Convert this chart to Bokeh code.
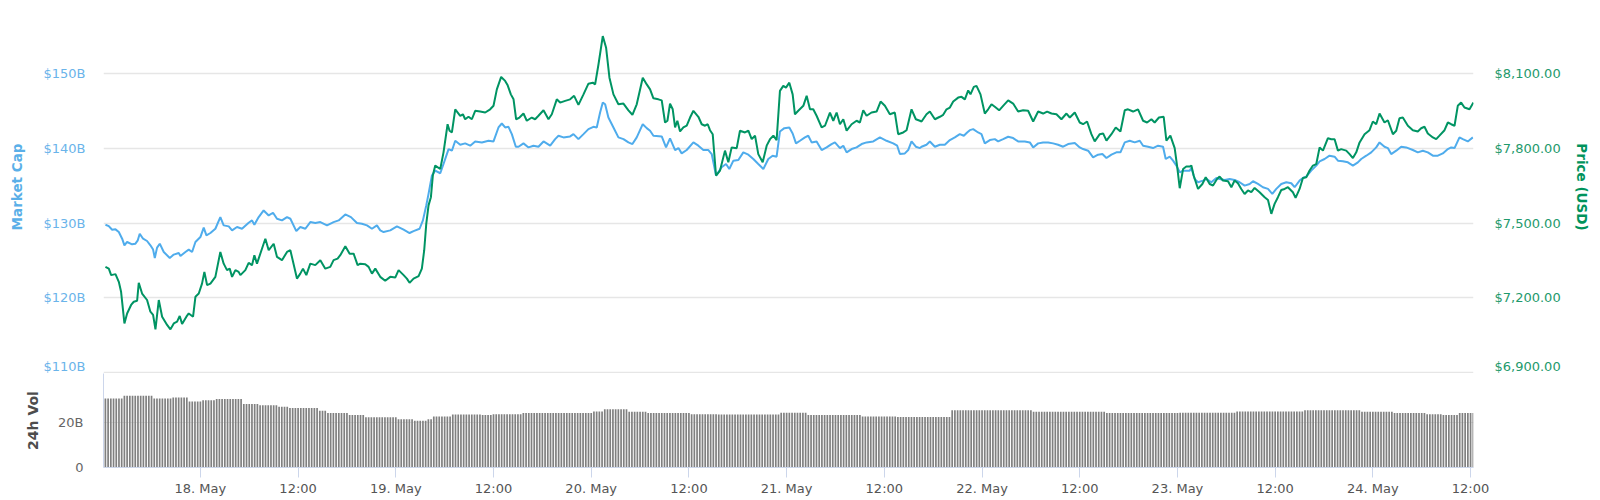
from bokeh.plotting import figure
from bokeh.models import Range1d, LinearAxis, FixedTicker, Grid, ColumnDataSource
from bokeh.layouts import column
from bokeh.embed import file_html
from bokeh.resources import INLINE

# hours relative to 18 May 2018 00:00
mcap_hours = [-11.66, -11.25, -10.84, -10.43, -10.02, -9.61, -9.33, -9.00, -8.39, -7.98, -7.69, -7.45, -7.04, -6.55, -6.14, -5.81, -5.60, -5.32, -4.99, -4.50,
              -3.76, -3.27, -2.66, -2.45, -1.84, -1.43, -1.02, -0.61, 0.00, 0.41, 0.74, 1.23, 1.84, 2.45, 2.86, 3.48, 3.89, 4.50, 5.11, 5.93,
              6.34, 6.63, 7.16, 7.77, 8.39, 8.92, 9.41, 10.02, 10.64, 11.05, 11.78, 12.27, 12.89, 13.50, 14.11, 14.73, 15.55, 16.36, 16.98, 17.80,
              18.49, 19.23, 19.84, 20.46, 21.07, 21.68, 22.09, 22.50, 23.32, 24.14, 24.96, 25.69, 26.18, 26.92, 27.33, 27.74, 28.02, 28.43, 28.84, 29.46,
              29.86, 30.48, 30.89, 31.30, 31.91, 32.52, 33.14, 33.75, 34.57, 35.39, 36.00, 36.61, 37.02, 37.43, 37.84, 38.25, 38.74, 39.07, 39.68, 40.30,
              40.91, 41.52, 42.14, 42.96, 43.57, 43.98, 44.59, 45.41, 45.82, 46.43, 47.05, 47.66, 48.27, 48.68, 49.09, 49.42, 49.71, 50.11, 50.73, 51.34,
              51.96, 52.57, 53.06, 53.59, 54.33, 54.82, 55.23, 55.64, 56.66, 57.19, 57.68, 58.30, 58.71, 59.11, 59.73, 60.55, 61.16, 61.77, 62.39, 62.80,
              63.33, 64.02, 64.56, 64.96, 65.46, 66.07, 66.68, 67.30, 67.91, 68.52, 69.14, 69.75, 70.28, 70.77, 71.18, 71.72, 72.33, 72.74, 73.15, 73.64,
              74.25, 74.66, 75.07, 75.68, 76.30, 76.91, 77.52, 77.93, 78.55, 78.96, 79.37, 79.98, 80.59, 81.21, 81.82, 82.64, 83.46, 84.27, 85.09, 85.58,
              85.91, 86.52, 86.93, 87.34, 87.87, 88.37, 88.57, 89.18, 89.59, 90.21, 90.82, 91.43, 92.05, 92.66, 93.27, 93.76, 94.17, 94.50, 94.91, 95.52,
              95.93, 96.34, 96.96, 97.57, 97.98, 98.59, 99.21, 99.82, 100.43, 101.25, 101.87, 102.28, 102.89, 103.50, 104.12, 104.73, 105.34, 105.96, 106.57, 107.39,
              108.00, 108.41, 109.03, 109.64, 110.25, 110.78, 111.28, 111.89, 112.50, 113.00, 113.53, 114.14, 114.75, 115.37, 115.78, 116.39, 117.00, 117.62, 118.23, 118.56,
              119.05, 119.46, 119.87, 120.28, 120.69, 121.50, 121.71, 122.12, 122.53, 123.14, 123.55, 124.16, 124.78, 125.18, 125.80, 126.41, 127.02, 127.64, 128.25, 128.87,
              129.28, 129.89, 130.50, 131.12, 131.65, 132.14, 132.75, 133.37, 133.98, 134.39, 135.00, 135.41, 135.82, 136.43, 137.05, 137.46, 138.07, 138.68, 139.30, 139.71,
              140.32, 140.93, 141.55, 142.16, 142.57, 143.19, 143.80, 144.41, 144.82, 145.43, 145.84, 146.25, 146.87, 147.48, 148.09, 148.91, 149.52, 150.14, 150.75, 151.37,
              151.98, 152.59, 153.21, 153.62, 154.03, 154.64, 155.05, 155.66, 156.28]
mcap_values = [129.78, 129.60, 129.11, 129.16, 128.80, 127.91, 127.02, 127.47, 127.16, 127.24, 127.69, 128.58, 127.91, 127.60, 127.02, 126.45, 125.33, 126.71, 127.24, 126.13,
               125.33, 125.78, 126.00, 125.60, 126.13, 126.45, 126.13, 127.47, 128.13, 129.38, 128.36, 128.67, 129.24, 130.80, 129.69, 129.56, 129.02, 129.47, 129.24, 130.04,
               130.36, 129.78, 130.80, 131.69, 131.02, 131.38, 130.58, 130.36, 130.80, 130.58, 128.93, 129.47, 129.24, 130.13, 130.00, 130.13, 129.69, 130.13, 130.36, 131.16,
               130.80, 130.00, 129.91, 129.69, 129.24, 129.69, 129.02, 128.80, 129.02, 129.56, 129.11, 128.67, 128.93, 129.24, 130.36, 132.36, 133.91, 136.36, 137.02, 136.67,
               137.91, 139.91, 139.69, 141.02, 140.49, 140.67, 140.36, 140.93, 140.80, 141.02, 140.93, 142.80, 143.33, 142.80, 142.89, 141.91, 140.22, 140.22, 140.67, 140.13,
               140.36, 140.22, 140.93, 140.36, 141.24, 141.69, 141.47, 141.60, 141.91, 141.24, 141.91, 142.58, 142.89, 142.80, 144.80, 146.13, 145.91, 144.13, 142.80, 141.47,
               141.24, 140.80, 140.58, 141.47, 143.24, 142.71, 142.36, 141.69, 141.60, 140.13, 141.33, 139.78, 140.04, 139.33, 139.78, 140.80, 140.36, 139.78, 139.78, 139.24,
               136.36, 137.47, 137.91, 137.24, 138.36, 138.44, 139.47, 139.16, 138.58, 137.91, 137.24, 138.58, 139.02, 138.89, 142.27, 142.71, 142.80, 142.00, 140.67, 141.02,
               141.47, 141.69, 140.80, 140.93, 139.78, 140.13, 140.58, 140.80, 140.04, 140.36, 139.47, 139.91, 140.13, 140.58, 140.80, 140.93, 141.47, 141.02, 140.67, 140.36,
               139.24, 139.33, 139.78, 140.93, 140.22, 140.04, 140.22, 140.49, 140.93, 140.22, 140.49, 140.49, 141.11, 141.47, 141.91, 141.69, 142.13, 142.44, 142.58, 142.13,
               141.91, 140.67, 141.11, 141.24, 140.93, 141.24, 141.56, 141.38, 140.93, 140.93, 140.80, 140.13, 140.67, 140.80, 140.80, 140.67, 140.49, 140.22, 140.58, 140.71,
               140.13, 139.91, 139.69, 138.80, 139.16, 139.24, 138.71, 139.16, 139.47, 139.47, 140.80, 141.02, 140.80, 141.02, 140.36, 140.22, 140.04, 140.36, 140.22, 138.58,
               138.89, 138.36, 137.69, 136.80, 137.02, 137.02, 137.38, 135.91, 135.47, 135.69, 135.91, 135.47, 136.04, 135.91, 135.78, 135.91, 135.78, 135.47, 135.02, 135.24,
               135.60, 135.24, 134.80, 134.58, 133.91, 134.58, 135.24, 135.47, 135.33, 134.80, 135.69, 136.04, 136.22, 137.02, 137.69, 138.27, 138.58, 139.02, 138.89, 138.36,
               138.27, 138.13, 137.69, 138.13, 138.58, 139.02, 139.47, 140.13, 140.80, 140.22, 140.04, 139.24, 139.69, 140.22, 140.13, 139.78, 139.47, 139.69, 139.47, 139.02,
               139.02, 139.33, 139.91, 140.13, 140.04, 141.47, 141.24, 140.93, 141.47]

price_hours = [-11.66, -11.25, -10.96, -10.43, -10.02, -9.74, -9.33, -9.00, -8.51, -8.18, -7.77, -7.57, -7.16, -6.55, -6.14, -5.81, -5.52, -5.11, -4.70, -4.09,
               -3.68, -3.27, -2.86, -2.54, -2.25, -1.72, -1.43, -0.90, -0.61, -0.20, 0.20, 0.49, 0.82, 1.23, 1.84, 2.45, 2.86, 3.27, 3.60, 3.89,
               4.30, 4.70, 4.91, 5.52, 5.93, 6.34, 6.63, 6.95, 7.77, 7.98, 8.39, 9.00, 9.41, 10.02, 10.64, 11.05, 11.86, 12.27, 12.60, 13.01,
               13.50, 14.11, 14.73, 15.34, 15.95, 16.36, 16.85, 17.18, 17.80, 18.33, 18.82, 19.31, 19.64, 20.25, 20.66, 21.07, 21.48, 22.09, 22.70, 23.32,
               23.93, 24.34, 24.96, 25.36, 25.69, 26.18, 26.80, 27.20, 27.49, 27.74, 28.02, 28.31, 28.55, 28.84, 29.46, 29.86, 30.36, 30.60, 30.89, 31.30,
               31.91, 32.24, 32.52, 32.93, 33.34, 33.75, 34.36, 34.98, 35.59, 36.00, 36.41, 36.94, 37.43, 37.72, 38.13, 38.46, 38.78, 39.19, 39.68, 40.09,
               40.70, 41.11, 41.52, 42.14, 42.75, 43.16, 43.77, 44.18, 44.80, 45.41, 45.90, 46.43, 47.05, 47.66, 48.19, 48.48, 48.89, 49.42, 49.83, 50.24,
               50.73, 51.34, 51.96, 52.57, 53.06, 53.59, 54.33, 54.82, 55.23, 55.64, 56.25, 56.66, 57.07, 57.36, 57.68, 58.01, 58.30, 58.58, 58.91, 59.32,
               59.73, 60.14, 60.55, 61.16, 61.57, 61.98, 62.31, 62.59, 62.92, 63.33, 63.82, 64.43, 64.84, 65.25, 65.87, 66.27, 66.89, 67.30, 67.71, 68.12,
               68.52, 69.06, 69.55, 69.96, 70.37, 70.77, 71.18, 71.59, 71.92, 72.33, 72.74, 73.02, 73.43, 74.05, 74.46, 74.87, 75.27, 75.68, 76.30, 76.71,
               77.32, 77.73, 78.14, 78.55, 78.96, 79.37, 79.98, 80.59, 81.00, 81.41, 81.82, 82.43, 83.05, 83.54, 84.07, 84.68, 85.29, 85.70, 86.32, 86.73,
               87.34, 87.87, 88.37, 88.57, 89.18, 89.59, 90.21, 90.82, 91.23, 91.64, 92.05, 92.46, 93.07, 93.48, 93.89, 94.30, 94.58, 94.99, 95.32, 95.81,
               96.34, 96.75, 97.16, 97.57, 98.10, 98.59, 99.21, 99.82, 100.43, 101.05, 101.66, 102.28, 102.89, 103.50, 103.99, 104.53, 105.14, 105.75, 106.37, 106.78,
               107.39, 108.00, 108.41, 108.90, 109.43, 109.84, 110.46, 110.87, 111.28, 111.89, 112.42, 113.00, 113.53, 113.93, 114.55, 115.16, 115.78, 116.27, 116.80, 117.20,
               117.73, 118.31, 118.64, 119.13, 119.66, 119.95, 120.28, 120.69, 121.09, 121.50, 121.71, 121.99, 122.53, 123.06, 123.47, 123.96, 124.37, 124.86, 125.18, 125.59,
               126.21, 126.62, 127.02, 127.43, 127.84, 128.25, 128.66, 129.07, 129.48, 130.09, 130.71, 131.12, 131.53, 131.93, 132.34, 132.75, 133.16, 133.57, 134.18, 134.51,
               135.00, 135.41, 135.82, 136.23, 136.64, 137.05, 137.46, 137.87, 138.48, 138.89, 139.30, 139.71, 140.11, 140.73, 141.14, 141.55, 141.96, 142.37, 142.98, 143.59,
               144.00, 144.41, 144.82, 145.43, 145.84, 146.46, 146.87, 147.27, 147.68, 148.30, 148.91, 149.52, 149.93, 150.34, 150.75, 151.37, 151.78, 152.18, 152.80, 153.21,
               153.62, 154.03, 154.43, 154.84, 155.25, 155.87, 156.35]
price_values = [7324, 7317, 7291, 7295, 7264, 7224, 7097, 7137, 7171, 7184, 7188, 7260, 7217, 7191, 7144, 7131, 7073, 7191, 7124, 7091,
                7073, 7097, 7104, 7127, 7095, 7124, 7137, 7124, 7204, 7217, 7257, 7304, 7251, 7257, 7284, 7384, 7337, 7311, 7317, 7284,
                7311, 7304, 7291, 7311, 7340, 7331, 7371, 7337, 7417, 7437, 7391, 7417, 7364, 7351, 7384, 7391, 7277, 7297, 7317, 7291,
                7337, 7331, 7351, 7317, 7324, 7351, 7357, 7371, 7407, 7377, 7377, 7331, 7337, 7335, 7324, 7297, 7317, 7284, 7268, 7284,
                7281, 7311, 7291, 7277, 7260, 7277, 7287, 7317, 7391, 7497, 7571, 7604, 7691, 7731, 7717, 7784, 7897, 7871, 7864, 7957,
                7931, 7937, 7917, 7927, 7917, 7951, 7948, 7944, 7957, 7971, 8037, 8087, 8071, 8055, 8017, 7997, 7917, 7924, 7940, 7911,
                7924, 7917, 7931, 7953, 7917, 7937, 7997, 7984, 7991, 7997, 8011, 7975, 8017, 8060, 8064, 8057, 8137, 8251, 8204, 8084,
                8017, 7977, 7980, 7953, 7935, 7977, 8084, 8057, 8037, 8001, 7997, 7993, 7904, 7911, 7980, 7957, 7884, 7911, 7868, 7884,
                7891, 7924, 7951, 7927, 7897, 7891, 7897, 7873, 7857, 7691, 7711, 7791, 7744, 7804, 7801, 7871, 7864, 7871, 7837, 7851,
                7777, 7744, 7811, 7837, 7851, 7833, 8031, 8051, 8044, 8064, 8017, 7937, 7951, 7971, 8011, 7957, 7957, 7931, 7884, 7891,
                7944, 7911, 7944, 7897, 7917, 7871, 7897, 7911, 7904, 7953, 7931, 7944, 7948, 7988, 7971, 7937, 7944, 7857, 7864, 7873,
                7957, 7917, 7911, 7908, 7937, 7948, 7917, 7927, 7935, 7957, 7964, 7988, 8004, 8007, 7997, 8033, 8017, 8047, 8051, 8017,
                7940, 7957, 7977, 7967, 7953, 7971, 7993, 7980, 7948, 7953, 7951, 7908, 7948, 7940, 7948, 7940, 7937, 7917, 7940, 7924,
                7944, 7904, 7897, 7908, 7857, 7828, 7857, 7860, 7831, 7857, 7884, 7868, 7953, 7957, 7948, 7957, 7911, 7904, 7917, 7904,
                7924, 7927, 7831, 7851, 7801, 7731, 7640, 7717, 7727, 7727, 7731, 7691, 7637, 7657, 7684, 7657, 7651, 7677, 7687, 7671,
                7668, 7644, 7671, 7660, 7637, 7617, 7631, 7624, 7641, 7624, 7604, 7593, 7537, 7577, 7604, 7633, 7637, 7644, 7624, 7601,
                7637, 7681, 7684, 7711, 7731, 7737, 7804, 7791, 7841, 7837, 7837, 7791, 7797, 7791, 7777, 7761, 7784, 7824, 7857, 7873,
                7908, 7897, 7940, 7904, 7913, 7857, 7871, 7921, 7924, 7891, 7873, 7868, 7881, 7887, 7860, 7844, 7837, 7851, 7873, 7904,
                7897, 7891, 7971, 7984, 7964, 7957, 7984]

# 24h volume (billions), read as flat runs: run ends (hours) and run values
vol_run_end = [-9.45, -5.77, -3.44, -1.60, 0.00, 1.84, 5.28, 7.00, 9.45, 10.68, 14.36, 15.59, 18.16, 20.00, 24.18, 26.14, 27.86, 28.60, 30.68, 34.36,
               35.96, 39.64, 48.10, 49.46, 52.40, 54.86, 60.14, 63.45, 71.18, 74.50, 81.00, 85.54, 92.30, 102.20, 111.30, 120.30, 127.30, 135.40, 142.40, 146.40,
               150.60, 152.60, 154.60, 156.50]
vol_run_value = [30.7, 31.9, 30.7, 31.1, 29.3, 29.9, 30.5, 28.2, 27.7, 27.0, 26.5, 25.2, 24.2, 23.3, 22.3, 21.5, 20.8, 21.5, 22.7, 23.6,
                 23.3, 23.7, 24.2, 24.9, 25.9, 24.8, 24.2, 23.7, 23.6, 24.4, 23.3, 22.7, 22.5, 25.5, 24.8, 24.2, 24.4, 24.9, 25.5, 24.8,
                 24.2, 23.7, 23.3, 24.2]
vol_first_hour = -11.667     # 17 May 12:20
vol_step_hours = 1.0 / 3.0   # one bar every 20 minutes
vol_bar_count = 505

mcap_ticks = [110, 120, 130, 140, 150]
mcap_labels = ["$110B", "$120B", "$130B", "$140B", "$150B"]
price_ticks = [6900, 7200, 7500, 7800, 8100]
price_labels = ["$6,900.00", "$7,200.00", "$7,500.00", "$7,800.00", "$8,100.00"]
vol_ticks = [0, 20]
vol_labels = ["0", "20B"]
x_ticks = [0, 12, 24, 36, 48, 60, 72, 84, 96, 108, 120, 132, 144, 156]
x_labels = ["18. May", "12:00", "19. May", "12:00", "20. May", "12:00", "21. May", "12:00",
            "22. May", "12:00", "23. May", "12:00", "24. May", "12:00"]

# build bar table from the runs
bar_t, bar_v = [], []
for k in range(vol_bar_count):
    t = vol_first_hour + k * vol_step_hours
    val = vol_run_value[-1]
    for e, rv in zip(vol_run_end, vol_run_value):
        if t <= e:
            val = rv
            break
    bar_t.append(t)
    bar_v.append(val)

FONT = "DejaVu Sans"
BLUE = "#4facec"
GREEN = "#009463"
GRID = "#e6e6e6"
AXC = "#ccd6eb"

xr = Range1d(-11.9, 156.36)

p = figure(width=1592, height=373, x_range=xr, y_range=Range1d(109.86, 159.8),
           x_axis_location=None, y_axis_location=None, output_backend="svg",
           toolbar_location=None, min_border_left=103, min_border_right=118,
           min_border_top=0, min_border_bottom=0, outline_line_color=None,
           background_fill_color="white", border_fill_color="white")
p.grid.visible = False
p.extra_y_ranges = {"price": Range1d(6895.8, 8394)}

ax_l = LinearAxis(ticker=FixedTicker(ticks=mcap_ticks),
                  major_label_overrides=dict(zip(mcap_ticks, mcap_labels)))
ax_l.axis_label = "Market Cap"
ax_l.axis_label_text_color = "#5aafe8"
ax_l.axis_label_text_font = FONT
ax_l.axis_label_text_font_size = "13.5px"
ax_l.axis_label_text_font_style = "bold"
ax_l.axis_label_standoff = 15
ax_l.major_label_text_color = "#6ab4ea"
ax_l.major_label_text_font = FONT
ax_l.major_label_text_font_size = "13px"
ax_l.major_label_standoff = 18
ax_l.major_label_text_baseline = "bottom"
ax_l.major_tick_out = 0
ax_l.major_tick_in = 0
ax_l.minor_tick_out = 0
ax_l.minor_tick_in = 0
ax_l.axis_line_color = None
p.add_layout(ax_l, "left")

ax_r = LinearAxis(y_range_name="price", ticker=FixedTicker(ticks=price_ticks),
                  major_label_overrides=dict(zip(price_ticks, price_labels)))
ax_r.axis_label = "Price (USD)"
ax_r.axis_label_text_color = "#00935c"
ax_r.axis_label_text_font = FONT
ax_r.axis_label_text_font_size = "13.5px"
ax_r.axis_label_text_font_style = "bold"
ax_r.axis_label_standoff = 10
ax_r.major_label_text_color = "#1e9a6c"
ax_r.major_label_text_font = FONT
ax_r.major_label_text_font_size = "13px"
ax_r.major_label_standoff = 21
ax_r.major_label_text_baseline = "bottom"
ax_r.major_tick_out = 0
ax_r.major_tick_in = 0
ax_r.minor_tick_out = 0
ax_r.minor_tick_in = 0
ax_r.axis_line_color = None
p.add_layout(ax_r, "right")

p.add_layout(Grid(dimension=1, ticker=ax_l.ticker, grid_line_color=GRID, grid_line_width=1.5))

p.line(mcap_hours, mcap_values, line_color=BLUE, line_width=2)
p.line(price_hours, price_values, line_color=GREEN, line_width=2, y_range_name="price")

v = figure(width=1592, height=127, x_range=xr, y_range=Range1d(0, 41.8),
           x_axis_location=None, y_axis_location=None, output_backend="svg",
           toolbar_location=None, min_border_left=103, min_border_right=118,
           min_border_top=0, min_border_bottom=33, outline_line_color=None,
           background_fill_color="white", border_fill_color="white")
v.grid.visible = False

vax = LinearAxis(ticker=FixedTicker(ticks=vol_ticks),
                 major_label_overrides=dict(zip(vol_ticks, vol_labels)))
vax.axis_label = "24h Vol"
vax.axis_label_text_color = "#4d4d4d"
vax.axis_label_text_font = FONT
vax.axis_label_text_font_size = "14px"
vax.axis_label_text_font_style = "bold"
vax.axis_label_standoff = 14
vax.major_label_text_color = "#666666"
vax.major_label_text_font = FONT
vax.major_label_text_font_size = "13px"
vax.major_label_standoff = 20
vax.major_label_text_baseline = "bottom"
vax.major_tick_out = 0
vax.major_tick_in = 0
vax.minor_tick_out = 0
vax.minor_tick_in = 0
vax.axis_line_color = AXC
v.add_layout(vax, "left")

xax = LinearAxis(ticker=FixedTicker(ticks=x_ticks),
                 major_label_overrides=dict(zip(x_ticks, x_labels)))
xax.major_label_text_color = "#555555"
xax.major_label_text_font = FONT
xax.major_label_text_font_size = "13px"
xax.major_label_standoff = 3
xax.major_tick_out = 10
xax.major_tick_in = 0
xax.minor_tick_out = 0
xax.minor_tick_in = 0
xax.major_tick_line_color = AXC
xax.axis_line_color = AXC
v.add_layout(xax, "below")

v.add_layout(Grid(dimension=1, ticker=FixedTicker(ticks=[20]), grid_line_color=GRID, grid_line_width=1))

src = ColumnDataSource(dict(t=bar_t, v=bar_v))
v.vbar(x="t", top="v", bottom=0, width=0.21, source=src, fill_color="#808080", line_color=None)

layout = column(p, v, spacing=0)
open("out.html", "w").write(file_html(layout, INLINE))
